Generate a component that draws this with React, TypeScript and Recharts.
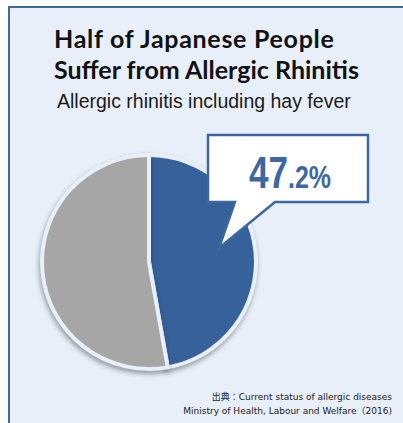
import { Cell, Pie, PieChart } from "recharts";

const categories = ["Allergic rhinitis", "Other"];
const shares = [47.2, 52.8];
const sliceColors = ["#36619A", "#A6A6A6"];
const headline = "47";
const headlineDecimal = ".2%";

const data = categories.map((name, i) => ({ name, value: shares[i] }));

const BLUE = "#3C67A1";
const PANEL_BG = "#E8EFF9";

// speech-bubble callout, hung off the pie centre for the first slice only
function renderCallout(props: any) {
  if (props.index !== 0) return null;
  const cx = Number(props.cx);
  const cy = Number(props.cy);
  const left = cx + 59;
  const right = cx + 219;
  const top = cy - 127;
  const bottom = cy - 60;
  const d = [
    `M${left},${top}`,
    `L${right},${top}`,
    `L${right},${bottom}`,
    `L${cx + 126},${bottom}`,
    `L${cx + 70},${cy - 14}`,
    `L${cx + 86},${bottom}`,
    `L${left},${bottom}`,
    "Z",
  ].join(" ");
  return (
    <g>
      <path d={d} fill="#fff" stroke={BLUE} strokeWidth={2.5} strokeLinejoin="miter" />
      {/* no narrow font installed, so squeeze the bold face sideways */}
      <text
        transform={`translate(${cx + 100},${cy - 74}) scale(0.78,1)`}
        fill={BLUE}
        fontFamily="'Liberation Sans', Arial, sans-serif"
        fontWeight="bold"
      >
        <tspan fontSize={45}>{headline}</tspan>
        <tspan fontSize={32}>{headlineDecimal}</tspan>
      </text>
    </g>
  );
}

export default function App() {
  return (
    <div style={{ position: "absolute", left: 0, top: 0, width: 403, height: 423, background: "#fff", overflow: "hidden" }}>
      <div
        style={{
          position: "absolute",
          left: 8,
          top: 6,
          width: 400,
          height: 420,
          background: PANEL_BG,
          borderTop: `2px solid ${BLUE}`,
          borderLeft: `2px solid ${BLUE}`,
        }}
      />
      <div
        style={{
          position: "absolute",
          left: 54,
          top: 23,
          fontFamily: "Lato, 'Open Sans', sans-serif",
          fontWeight: 700,
          fontSize: 25,
          lineHeight: "31px",
          color: "#111",
          whiteSpace: "nowrap",
        }}
      >
        <div style={{ letterSpacing: 0.7 }}>Half of Japanese People</div>
        <div>Suffer from Allergic Rhinitis</div>
      </div>
      <div
        style={{
          position: "absolute",
          left: 57,
          top: 90,
          fontFamily: "'Liberation Sans', Arial, sans-serif",
          fontSize: 19.5,
          color: "#1a1a1a",
          whiteSpace: "nowrap",
        }}
      >
        Allergic rhinitis including hay fever
      </div>
      <div style={{ position: "absolute", left: 0, top: 0 }}>
        <PieChart width={403} height={423} margin={{ top: 0, right: 0, bottom: 0, left: 0 }}>
          <Pie
            data={data}
            dataKey="value"
            nameKey="name"
            cx={149}
            cy={262}
            outerRadius={107}
            startAngle={90}
            endAngle={-270}
            stroke={PANEL_BG}
            strokeWidth={4}
            label={renderCallout}
            labelLine={false}
            isAnimationActive={false}
          >
            {data.map((d, i) => (
              <Cell
                key={d.name}
                fill={sliceColors[i]}
                style={{ filter: "drop-shadow(-1px 3px 2.5px rgba(0,0,0,0.35))" }}
              />
            ))}
          </Pie>
        </PieChart>
      </div>
      <div
        style={{
          position: "absolute",
          right: 11,
          top: 390,
          textAlign: "right",
          fontFamily: "'DejaVu Sans', 'Noto Sans CJK JP', sans-serif",
          fontSize: 9,
          lineHeight: "14px",
          color: "#222",
        }}
      >
        <div>出典：Current status of allergic diseases</div>
        <div>Ministry of Health, Labour and Welfare（2016)</div>
      </div>
    </div>
  );
}
